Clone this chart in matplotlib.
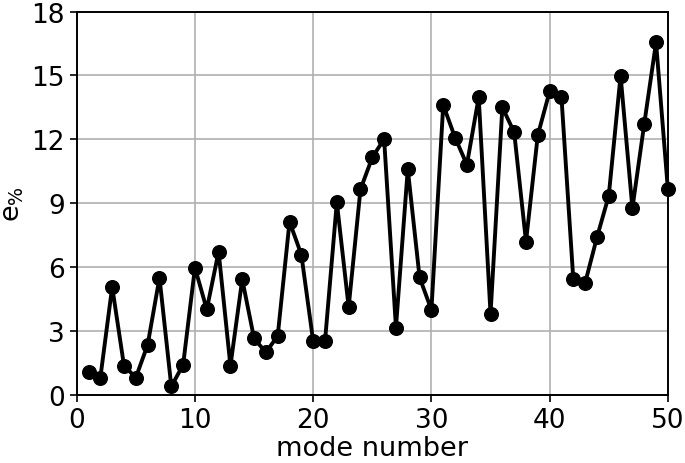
import matplotlib
matplotlib.use('Agg')
import matplotlib.pyplot as plt
import numpy as np

# relative error per mode
mode = np.arange(1, 51)
err_pct = [1.05, 0.81, 5.07, 1.36, 0.81, 2.35, 5.50, 0.39, 1.41, 5.97,
           4.01, 6.72, 1.36, 5.42, 2.65, 1.99, 2.77, 8.13, 6.58, 2.51,
           2.51, 9.04, 4.12, 9.65, 11.15, 12.01, 3.16, 10.60, 5.51, 3.99,
           13.61, 12.08, 10.81, 13.97, 3.79, 13.50, 12.33, 7.19, 12.20, 14.25,
           13.97, 5.43, 5.25, 7.39, 9.35, 14.99, 8.76, 12.72, 16.55, 9.66]
y_ticks = [0, 3, 6, 9, 12, 15, 18]
x_ticks = [0, 10, 20, 30, 40, 50]

fig = plt.figure(figsize=(6.85, 4.64), dpi=100)
ax = fig.add_axes([0.112, 0.147, 0.863, 0.826])

ax.plot(mode, err_pct, color='black', linewidth=2.8, marker='o', markersize=9.8,
        zorder=3, clip_on=False)

ax.set_xlim(0, 50)
ax.set_ylim(0, 18)
ax.set_xticks(x_ticks)
ax.set_yticks(y_ticks)
ax.grid(True, color='#b0b0b0', linewidth=1.2)
ax.set_axisbelow(True)
ax.tick_params(labelsize=19, length=5, width=1.2)
for s in ax.spines.values():
    s.set_linewidth(1.4)

ax.set_xlabel('mode number', fontsize=19.5, labelpad=2)
ax.set_ylabel(r'e$_{\%}$', fontsize=19.5, labelpad=4)

fig.savefig('out.png', dpi=100)
